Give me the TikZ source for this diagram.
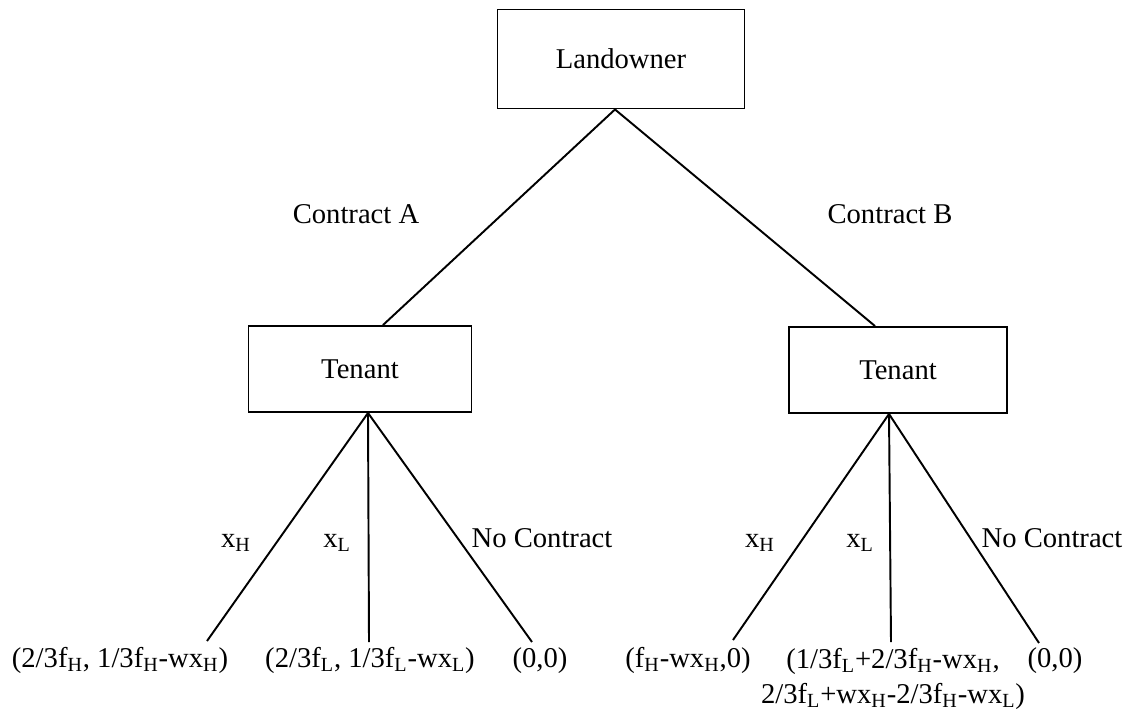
\documentclass[tikz,border=0pt]{standalone}
\usepackage{fontspec}
\setmainfont{Liberation Serif}
\newcommand{\lo}[1]{\textsubscript{#1}}

\begin{document}
\begin{tikzpicture}[x=0.02cm, y=-0.02cm, line width=1.1pt,
    font=\fontsize{16.3}{20}\selectfont,
    player/.style={draw, minimum height=1.72cm, inner sep=0pt}]
  \useasboundingbox (0, 0) rectangle (1129, 714);

  \node[player, minimum width=4.94cm, minimum height=1.98cm] (land) at (621, 59) {Landowner};

  \node[anchor=base] (ca) at (356, 223) {Contract A};
  \node[anchor=base] (cb) at (890, 223) {Contract B};

  \node[player, minimum width=4.46cm] (ta) at (360, 369) {Tenant};
  \node[player, minimum width=4.36cm] (tb) at (898, 370) {Tenant};

  \coordinate (top) at ([xshift=-0.12cm]land.south);
  \draw (top) -- ([xshift=0.46cm]ta.north);
  \draw (top) -- ([xshift=-0.46cm]tb.north);

  \node[anchor=base] (xha) at (236, 547) {x\lo{H}};
  \node[anchor=base] (xla) at (337, 547) {x\lo{L}};
  \node[anchor=base] (nca) at (542, 547) {No Contract};
  \node[anchor=base] (xhb) at (760, 547) {x\lo{H}};
  \node[anchor=base] (xlb) at (860, 547) {x\lo{L}};
  \node[anchor=base] (ncb) at (1052, 547) {No Contract};

  \node[anchor=base] (pa1) at (120, 667) {(2/3f\lo{H}, 1/3f\lo{H}-wx\lo{H})};
  \node[anchor=base] (pa2) at (370, 667) {(2/3f\lo{L}, 1/3f\lo{L}-wx\lo{L})};
  \node[anchor=base] (pa3) at (540, 667) {(0,0)};
  \node[anchor=base] (pb1) at (688, 667) {(f\lo{H}-wx\lo{H},0)};
  \node[anchor=north, inner sep=0pt, align=center] (pb2) at (893, 647)
    {(1/3f\lo{L}+2/3f\lo{H}-wx\lo{H},\\ 2/3f\lo{L}+wx\lo{H}-2/3f\lo{H}-wx\lo{L})};
  \node[anchor=base] (pb3) at (1055, 667) {(0,0)};

  \coordinate (sa) at ([xshift=0.16cm]ta.south);
  \coordinate (sb) at ([xshift=-0.18cm]tb.south);
  \coordinate (ea1) at (207, 641);
  \coordinate (ea2) at (369, 642);
  \coordinate (ea3) at (532, 642);
  \coordinate (eb1) at (733, 640);
  \coordinate (eb2) at (891, 642);
  \coordinate (eb3) at (1039, 643);

  \draw (sa) -- (ea1);
  \draw (sa) -- (ea2);
  \draw (sa) -- (ea3);
  \draw (sb) -- (eb1);
  \draw (sb) -- (eb2);
  \draw (sb) -- (eb3);
\end{tikzpicture}
\end{document}
